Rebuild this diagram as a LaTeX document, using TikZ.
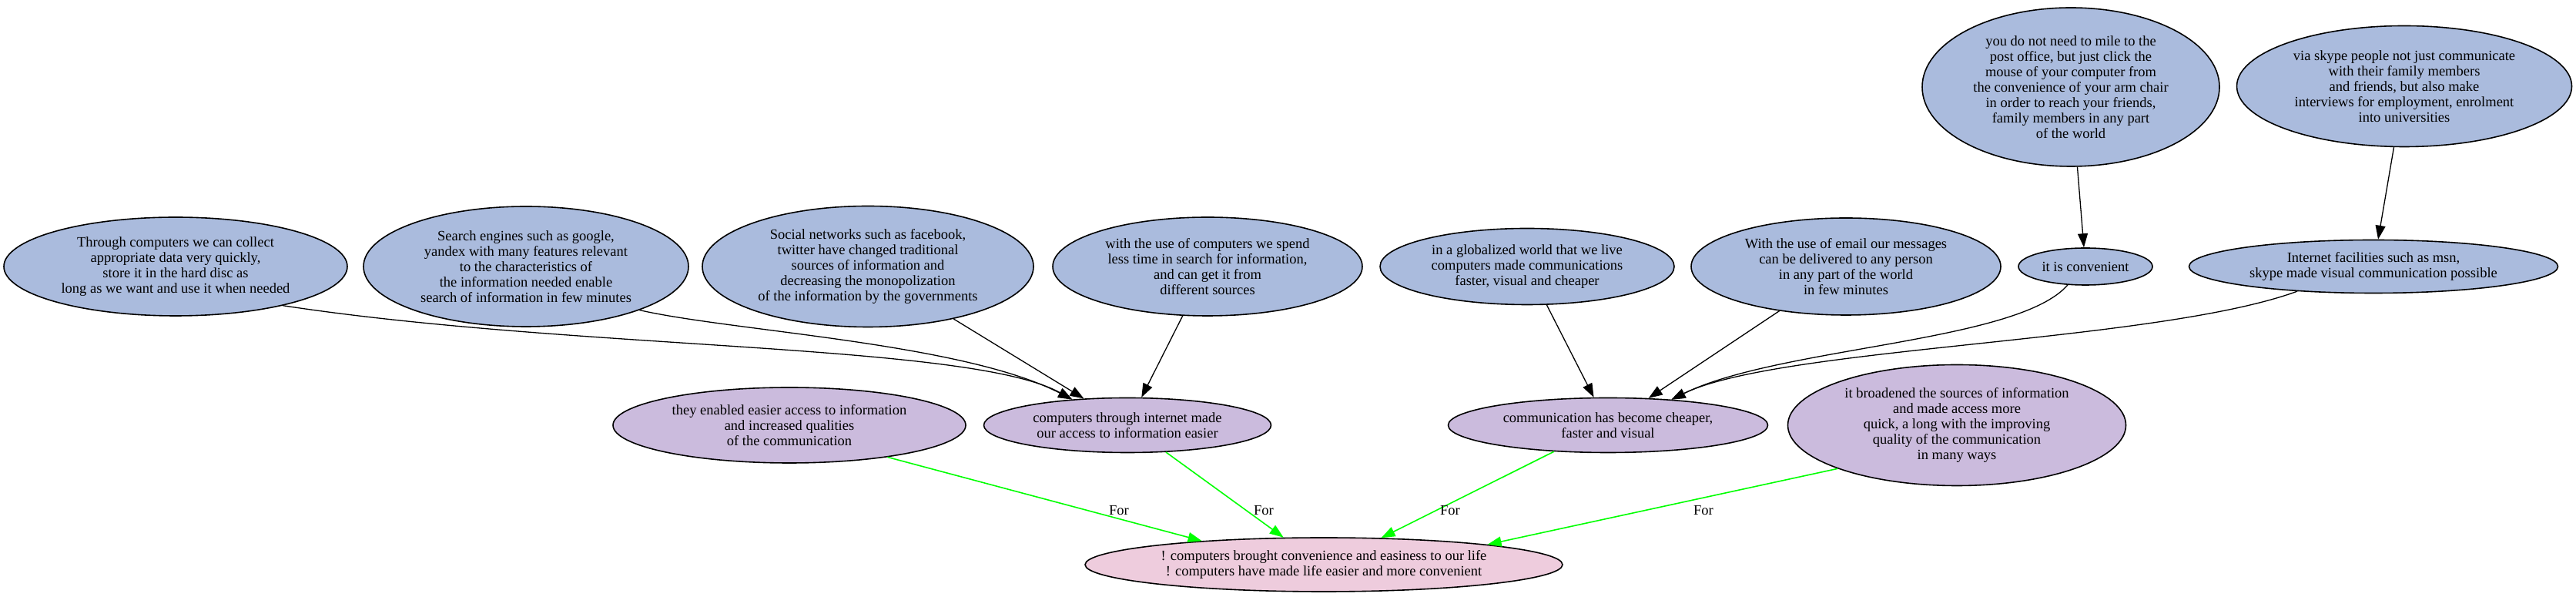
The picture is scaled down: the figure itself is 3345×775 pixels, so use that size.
\documentclass[tikz,border=0pt]{standalone}
\usepackage{fontspec}
\setmainfont{Liberation Serif}
\usepackage{tikz, xcolor}
\usetikzlibrary{shapes.geometric, arrows.meta}

\definecolor{reasonblue}{HTML}{AABBDD}
\definecolor{supportlilac}{HTML}{CBBBDD}
\definecolor{claimpink}{HTML}{EECCDD}

\begin{document}
\begin{tikzpicture}[x=1pt, y=1pt,
    bubble/.style={ellipse, draw=black, line width=1.6pt, inner sep=0pt, align=center,
      font=\fontsize{18.5}{20}\selectfont},
    reason/.style={bubble, fill=reasonblue},
    support/.style={bubble, fill=supportlilac},
    claim/.style={bubble, fill=claimpink},
    link/.style={draw=black, line width=1.3pt, -{Triangle[length=18pt, width=13pt]}},
    forlink/.style={draw=green, line width=1.6pt, -{Triangle[length=18pt, width=13pt]}},
    forlbl/.style={inner sep=0pt, font=\fontsize{18.5}{20}\selectfont}]

    \useasboundingbox (0, 0) rectangle (3345, 775);

    % top row of reasons
    \node [reason, minimum width=446pt, minimum height=128pt] (through) at (228, 429)
      {Through computers we can collect\\appropriate data very quickly,\\store it in the hard disc as\\long as we want and use it when needed};
    \node [reason, minimum width=422pt, minimum height=156pt] (search) at (683, 429)
      {Search engines such as google,\\yandex with many features relevant\\to the characteristics of\\the information needed enable\\search of information in few minutes};
    \node [reason, minimum width=430pt, minimum height=157pt] (social) at (1127, 429)
      {Social networks such as facebook,\\twitter have changed traditional\\sources of information and\\decreasing the monopolization\\of the information by the governments};
    \node [reason, minimum width=402pt, minimum height=128pt] (spend) at (1568, 429)
      {with the use of computers we spend\\less time in search for information,\\and can get it from\\different sources};
    \node [reason, minimum width=382pt, minimum height=99pt] (glob) at (1983, 429)
      {in a globalized world that we live\\computers made communications\\faster, visual and cheaper};
    \node [reason, minimum width=402pt, minimum height=126pt] (email) at (2397, 429)
      {With the use of email our messages\\can be delivered to any person\\in any part of the world\\in few minutes};
    \node [reason, minimum width=174pt, minimum height=48pt] (conv) at (2708, 429)
      {it is convenient};
    \node [reason, minimum width=479pt, minimum height=69pt] (internet) at (3082, 429)
      {Internet facilities such as msn,\\skype made visual communication possible};

    \node [reason, minimum width=386pt, minimum height=206pt] (mile) at (2689, 662)
      {you do not need to mile to the\\post office, but just click the\\mouse of your computer from\\the convenience of your arm chair\\in order to reach your friends,\\family members in any part\\of the world};
    \node [reason, minimum width=435pt, minimum height=157pt] (skype) at (3122, 663)
      {via skype people not just communicate\\with their family members\\and friends, but also make\\interviews for employment, enrolment\\into universities};

    % second row
    \node [support, minimum width=458pt, minimum height=98pt] (enabled) at (1025, 223)
      {they enabled easier access to information\\and increased qualities\\of the communication};
    \node [support, minimum width=373pt, minimum height=71pt] (ct) at (1464, 223)
      {computers through internet made\\our access to information easier};
    \node [support, minimum width=415pt, minimum height=71pt] (comm) at (2088, 223)
      {communication has become cheaper,\\faster and visual};
    \node [support, minimum width=439pt, minimum height=157pt] (broad) at (2541, 223)
      {it broadened the sources of information\\and made access more\\quick, a long with the improving\\quality of the communication\\in many ways};

    \node [claim, minimum width=620pt, minimum height=70pt] (main) at (1719, 42)
      {! computers brought convenience and easiness to our life\\! computers have made life easier and more convenient};

    \draw [link] (through.-20.5) .. controls (750, 320) and (1260, 330) .. (ct.155);
    \draw [link] (search.-21) .. controls (950, 345) and (1250, 330) .. (ct.155);
    \draw [link] (social) -- (ct);
    \draw [link] (spend) -- (ct);

    \draw [link] (glob) -- (comm);
    \draw [link] (email) -- (comm);
    \draw [link] (conv.226) .. controls (2620, 330) and (2310, 325) .. (comm.22.4);
    \draw [link] (internet.198) .. controls (2800, 330) and (2310, 325) .. (comm.22.4);

    \draw [link] (mile) -- (conv);
    \draw [link] (skype) -- (internet);

    \draw [forlink] (enabled.-18.7) -- (main.169.1);
    \draw [forlink] (ct.-35) -- (main.146.4);
    \draw [forlink] (comm.206) -- (main.25.6);
    \draw [forlink] (broad.200) -- (main.7.5);

    \node [forlbl] (for1) at (1453, 112) {For};
    \node [forlbl] (for2) at (1641, 112) {For};
    \node [forlbl] (for3) at (1883, 112) {For};
    \node [forlbl] (for4) at (2212, 112) {For};

  \end{tikzpicture}
\end{document}
